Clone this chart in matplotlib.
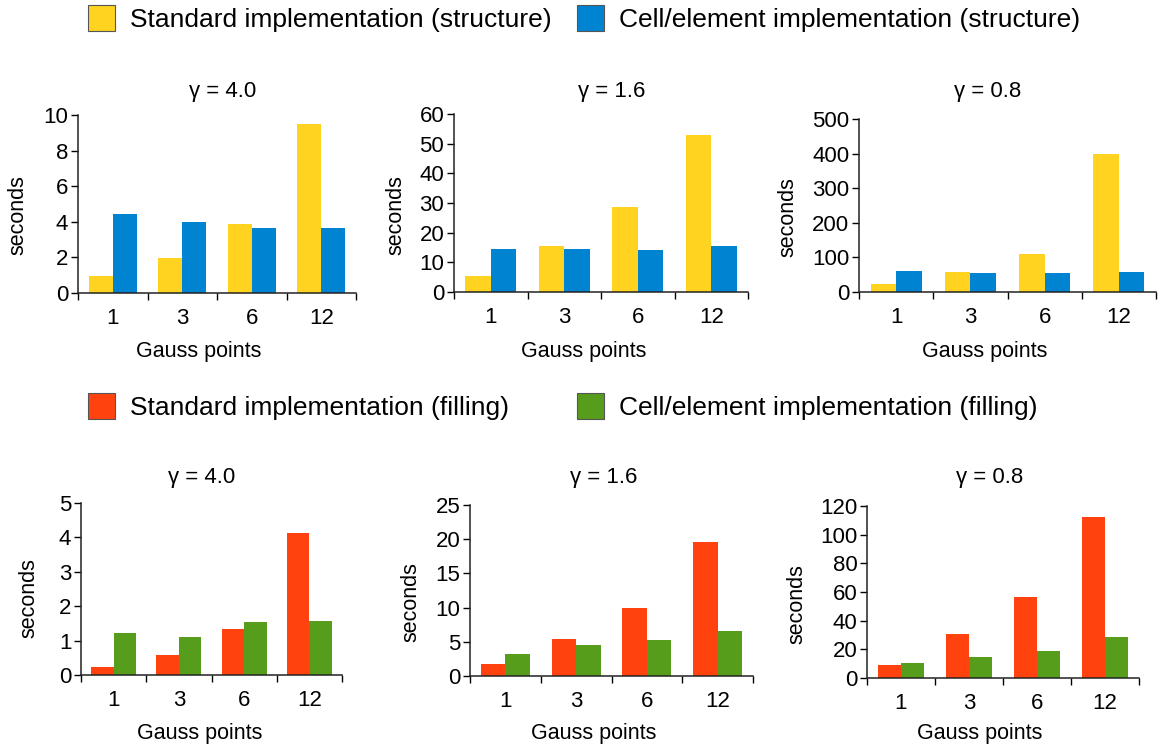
import matplotlib
matplotlib.use("Agg")
import matplotlib.pyplot as plt
from matplotlib.patches import Patch
import numpy as np

plt.rcParams['font.family'] = ['Liberation Sans', 'DejaVu Sans']

# Data
gauss_points = ["1", "3", "6", "12"]
gammas = ["4.0", "1.6", "0.8"]

std_structure = [
    [0.95, 1.95, 3.85, 9.5],
    [5.4, 15.4, 28.6, 52.8],
    [22, 57, 109, 400],
]
cell_structure = [
    [4.43, 3.98, 3.64, 3.64],
    [14.4, 14.4, 14.1, 15.4],
    [60, 54, 54, 57],
]
std_filling = [
    [0.24, 0.59, 1.34, 4.12],
    [1.7, 5.4, 9.9, 19.6],
    [9.3, 30.9, 56.6, 112.3],
]
cell_filling = [
    [1.23, 1.11, 1.54, 1.57],
    [3.2, 4.5, 5.2, 6.55],
    [10.7, 14.8, 19.0, 28.8],
]

ylims_top = [(10, 2), (60, 10), (500, 100)]
ylims_bottom = [(5, 1), (25, 5), (120, 20)]

YELLOW = "#FFD320"
BLUE = "#0084D1"
RED = "#FF420E"
GREEN = "#579D1C"

W, H = 1159, 752
fig = plt.figure(figsize=(W / 100, H / 100), dpi=100)


def px(x0, y0, x1, y1):
    # pixel box -> figure fraction rect
    return [x0 / W, 1 - y1 / H, (x1 - x0) / W, (y1 - y0) / H]


# axes boxes in pixels (left, top, right, bottom)
boxes_top = [(78, 115, 356, 293), (454, 114, 748, 292), (859, 119, 1156, 292)]
boxes_bottom = [(81, 503, 342, 675), (470, 505, 753, 676), (867, 506, 1139, 678)]

title_pos_top = [(223, 91), (612, 91), (988, 91)]
title_pos_bottom = [(202, 477), (604, 477), (990, 477)]
ylab_top = [(18, 215), (396, 215), (788, 217)]
ylab_bottom = [(29, 598), (411, 602), (797, 604)]
xlab_top = [(199, 351), (584, 351), (985, 351)]
xlab_bottom = [(200, 733), (594, 733), (980, 733)]


def draw_panel(box, s1, s2, c1, c2, ylim, title_xy, ylab_xy, xlab_xy, gamma):
    ax = fig.add_axes(px(*box))
    x = np.arange(len(gauss_points))
    w = 0.345
    ax.bar(x - w / 2, s1, w, color=c1, linewidth=0)
    ax.bar(x + w / 2, s2, w, color=c2, linewidth=0)
    ax.set_xlim(-0.5, len(gauss_points) - 0.5)
    ax.set_ylim(0, ylim[0])
    ax.set_yticks(np.arange(0, ylim[0] + ylim[1] / 2, ylim[1]))
    ax.set_xticks(np.arange(-0.5, len(gauss_points), 1.0))
    ax.set_xticklabels([])
    ax.set_xticks(x, minor=True)
    ax.set_xticklabels(gauss_points, minor=True)
    ax.tick_params(axis="x", which="major", length=5, width=1, direction="out")
    ax.tick_params(axis="x", which="minor", length=0, pad=11, labelsize=16)
    ax.tick_params(axis="y", length=5, width=1, pad=2, labelsize=16, direction="out")
    for s in ["top", "right"]:
        ax.spines[s].set_visible(False)
    for s in ["left", "bottom"]:
        ax.spines[s].set_linewidth(1.1)
        ax.spines[s].set_color("#222222")
    fig.text(title_xy[0] / W, 1 - title_xy[1] / H, "\u03b3 = " + gamma,
             ha="center", va="center", fontsize=16)
    fig.text(ylab_xy[0] / W, 1 - ylab_xy[1] / H, "seconds", rotation=90,
             ha="center", va="center", fontsize=15.5)
    fig.text(xlab_xy[0] / W, 1 - xlab_xy[1] / H, "Gauss points",
             ha="center", va="center", fontsize=15.5)
    return ax


for i in range(3):
    draw_panel(boxes_top[i], std_structure[i], cell_structure[i], YELLOW, BLUE,
               ylims_top[i], title_pos_top[i], ylab_top[i], xlab_top[i], gammas[i])
    draw_panel(boxes_bottom[i], std_filling[i], cell_filling[i], RED, GREEN,
               ylims_bottom[i], title_pos_bottom[i], ylab_bottom[i], xlab_bottom[i], gammas[i])

# Legends
legend_items = [
    ("Standard implementation (structure)", YELLOW, 88, 5),
    ("Cell/element implementation (structure)", BLUE, 577, 5),
    ("Standard implementation (filling)", RED, 88, 393),
    ("Cell/element implementation (filling)", GREEN, 577, 393),
]
for label, color, lx, ly in legend_items:
    h = Patch(facecolor=color, edgecolor="#555555", linewidth=0.8, label=label)
    fig.legend(handles=[h], loc="upper left", bbox_to_anchor=(lx / W, 1 - ly / H),
               frameon=False, borderpad=0, borderaxespad=0, fontsize=19,
               handlelength=1.02, handleheight=1.14, handletextpad=0.57)

fig.savefig("out.png", dpi=100)
